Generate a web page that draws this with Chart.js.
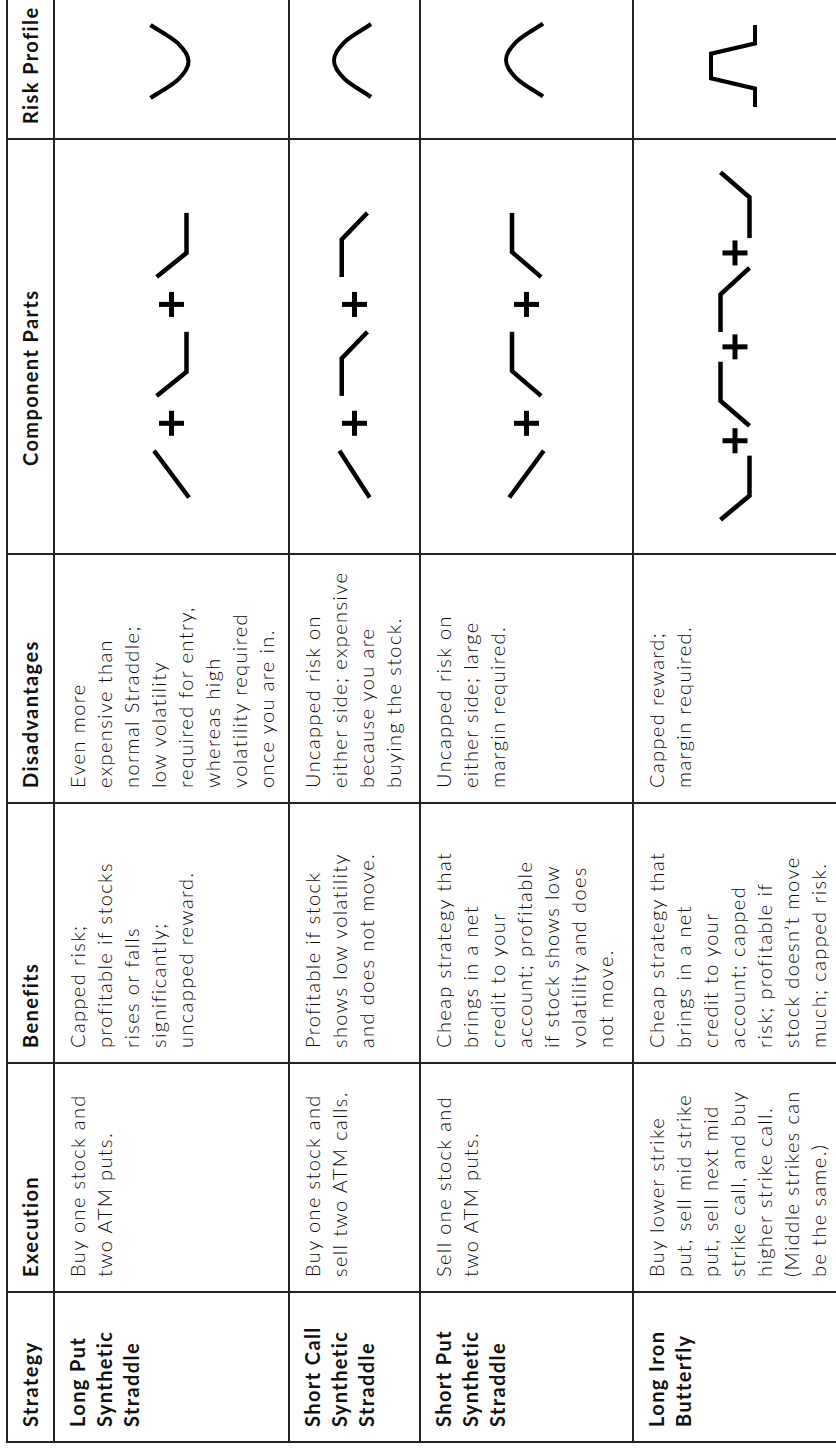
<!DOCTYPE html>
<html>
<head>
<meta charset="utf-8">
<script src="https://cdn.jsdelivr.net/npm/chart.js@4.4.1/dist/chart.umd.min.js"></script>
<style>
html,body{margin:0;padding:0;background:#fff;}
body{position:relative;width:836px;height:1448px;overflow:hidden;}
#stage{position:absolute;left:0;top:0;width:1480px;height:850px;transform-origin:0 0;
  transform:translate(0px,1448px) rotate(-90deg);font-family:Lato,"Open Sans","DejaVu Sans",sans-serif;}
.hl{position:absolute;background:#222;height:2px;z-index:5}
.vl{position:absolute;background:#222;width:2px;z-index:5}
.cell{position:absolute;white-space:nowrap;font-weight:300;font-size:20px;line-height:27px;letter-spacing:1.4px;color:#0a0a0a;}
.bold{font-weight:700;color:#111;}
canvas{position:absolute;z-index:1}
</style>
</head>
<body>
<div id="stage"></div>
<script>
// ---------- data ----------
const columnHeaders = ['Strategy','Execution','Benefits','Disadvantages','Component Parts','Risk Profile'];
const strategyNames = [
  ['Long Put','Synthetic','Straddle'],
  ['Short Call','Synthetic','Straddle'],
  ['Short Put','Synthetic','Straddle'],
  ['Long Iron','Butterfly']
];
const executionText = [
  ['Buy one stock and','two ATM puts.'],
  ['Buy one stock and','sell two ATM calls.'],
  ['Sell one stock and','two ATM puts.'],
  ['Buy lower strike','put, sell mid strike','put, sell next mid','strike call, and buy','higher strike call.','(Middle strikes can','be the same.)']
];
const benefitsText = [
  ['Capped risk;','profitable if stocks','rises or falls','significantly;','uncapped reward.'],
  ['Profitable if stock','shows low volatility','and does not move.'],
  ['Cheap strategy that','brings in a net','credit to your','account; profitable','if stock shows low','volatility and does','not move.'],
  ['Cheap strategy that','brings in a net','credit to your','account; capped','risk; profitable if','stock doesn\u2019t move','much; capped risk.']
];
const disadvantagesText = [
  ['Even more','expensive than','normal Straddle;','low volatility','required for entry,','whereas high','volatility required','once you are in.'],
  ['Uncapped risk on','either side; expensive','because you are','buying the stock.'],
  ['Uncapped risk on','either side; large','margin required.'],
  ['Capped reward;','margin required.']
];

// payoff shapes of the component parts: [price, payoff]
const longStock  = [[0,-0.09],[1.46,1.09]];
const shortStock = [[0,1.09],[1.46,-0.09]];
const longPut    = [[0,1],[0.75,0],[2,0]];
const shortPut   = [[0,0],[0.78,1],[2,1]];
const shortCall  = [[0,1],[1.17,1],[2,0]];
const longCall   = [[0,0],[1.27,0],[2.05,1]];
const componentParts = [
  ['longStock','longPut','longPut'],
  ['longStock','shortCall','shortCall'],
  ['shortStock','shortPut','shortPut'],
  ['longPut','shortPut','shortCall','longCall']
];

// risk profiles: [price, payoff]
const longStraddleProfile  = [[-1,1],[-0.5,0.28],[0,0],[0.5,0.28],[1,1]];
const shortStraddleProfile = [[-1,0],[-0.5,0.72],[0,1],[0.5,0.72],[1,0]];
const ironButterflyProfile = [[-1,0],[-0.55,0],[-0.3,1],[0.3,1],[0.55,0],[1,0]];
const riskProfiles = ['longStraddle','shortStraddle','shortStraddle','ironButterfly'];

// ---------- layout (unrotated table coordinates) ----------
const shapes = {longStock, shortStock, longPut, shortPut, shortCall, longCall};
const profiles = {longStraddle:longStraddleProfile, shortStraddle:shortStraddleProfile, ironButterfly:ironButterflyProfile};
const colEdges = [6,156,385,645,894,1309,1480];
const rowEdges = [7,54,289,420,633,837];
const componentCenters = [1092,1092,1092,1102];
const componentGaps = [1.71,1.71,1.71,0.93];
const stage = document.getElementById('stage');

function el(cls, css, html){
  const d = document.createElement('div');
  d.className = cls;
  Object.assign(d.style, css);
  if (html !== undefined) d.innerHTML = html;
  stage.appendChild(d);
  return d;
}
// grid lines
rowEdges.forEach(v => el('hl', {left:(colEdges[0]-1)+'px', top:(v-1)+'px', width:(1480-colEdges[0])+'px'}));
colEdges.slice(0,6).forEach(u => el('vl', {left:(u-1)+'px', top:(rowEdges[0]-1)+'px', height:(rowEdges[5]-rowEdges[0]+2)+'px'}));

// headers
columnHeaders.forEach((h,c) => {
  const left = (c === 4) ? 982 : colEdges[c] + 15;
  el('cell bold', {left:left+'px', top:rowEdges[0]+'px', lineHeight:(rowEdges[1]-rowEdges[0]-1)+'px'}, h);
});
// body text
const textCols = [strategyNames, executionText, benefitsText, disadvantagesText];
textCols.forEach((col,c) => {
  col.forEach((lines,r) => {
    el('cell' + (c === 0 ? ' bold' : ''), {left:(colEdges[c]+15)+'px', top:(rowEdges[r+1]+10)+'px'}, lines.join('<br>'));
  });
});

const baseOpts = (xmin,xmax,ymin,ymax) => ({
  responsive:false, animation:false, events:[],
  layout:{padding:0},
  plugins:{legend:{display:false}, tooltip:{enabled:false}},
  scales:{
    x:{type:'linear', display:false, min:xmin, max:xmax},
    y:{type:'linear', display:false, min:ymin, max:ymax}
  },
  elements:{point:{radius:0}}
});
function makeCanvas(left, top, w, h){
  const cv = document.createElement('canvas');
  cv.width = w; cv.height = h;
  Object.assign(cv.style, {left:left+'px', top:top+'px', width:w+'px', height:h+'px'});
  stage.appendChild(cv);
  return cv;
}
const lineStyle = {borderColor:'#000', borderWidth:4.5, borderJoinStyle:'miter', borderCapStyle:'butt',
  tension:0, pointRadius:0, fill:false, clip:false};

// component parts
componentParts.forEach((names,r) => {
  const w = colEdges[5] - colEdges[4];
  const h = rowEdges[r+2] - rowEdges[r+1];
  const U = 35;
  const cx = componentCenters[r] - colEdges[4];
  const gap = componentGaps[r];
  const items = names.map(n => shapes[n]);
  const widths = items.map(s => s[s.length-1][0] - s[0][0]);
  const total = widths.reduce((a,b)=>a+b,0) + gap*(items.length-1);
  let x0 = -total/2;
  const datasets = [];
  const plus = [];
  items.forEach((s,i) => {
    const off = x0;
    datasets.push(Object.assign({data:s.map(p => ({x:p[0]+off, y:p[1]-0.5}))}, lineStyle));
    if (i < items.length-1) plus.push({x:off + widths[i] + gap/2, y:0});
    x0 += widths[i] + gap;
  });
  datasets.push({data:plus, showLine:false, pointStyle:'cross', pointRadius:12.5, pointBorderWidth:5,
    pointBorderColor:'#000', borderColor:'#000', clip:false});
  const cv = makeCanvas(colEdges[4], rowEdges[r+1], w, h);
  new Chart(cv, {type:'line', data:{datasets}, options:baseOpts(-cx/U, (w-cx)/U, -h/2/U, h/2/U)});
});

// risk profiles
const riskSize = {longStraddle:[36.5,38], shortStraddle:[36.5,37], ironButterfly:[41,44]};
const riskCenter = [1386.5, 1387.5, 1388, 1382];
riskProfiles.forEach((name,r) => {
  const w = 1480 - colEdges[5];
  const h = rowEdges[r+2] - rowEdges[r+1];
  const [hw, hp] = riskSize[name];
  const cx = riskCenter[r] - colEdges[5];
  const cy = h/2 - 2;
  const ymax = 0.5 + cy/hp;
  const cv = makeCanvas(colEdges[5], rowEdges[r+1], w, h);
  const ds = Object.assign({data:profiles[name].map(p => ({x:p[0], y:p[1]}))}, lineStyle,
    {borderWidth:4.2, cubicInterpolationMode: name === 'ironButterfly' ? 'default' : 'monotone'});
  new Chart(cv, {type:'line', data:{datasets:[ds]}, options:baseOpts(-cx/hw, (w-cx)/hw, ymax - h/hp, ymax)});
});
</script>
</body>
</html>
